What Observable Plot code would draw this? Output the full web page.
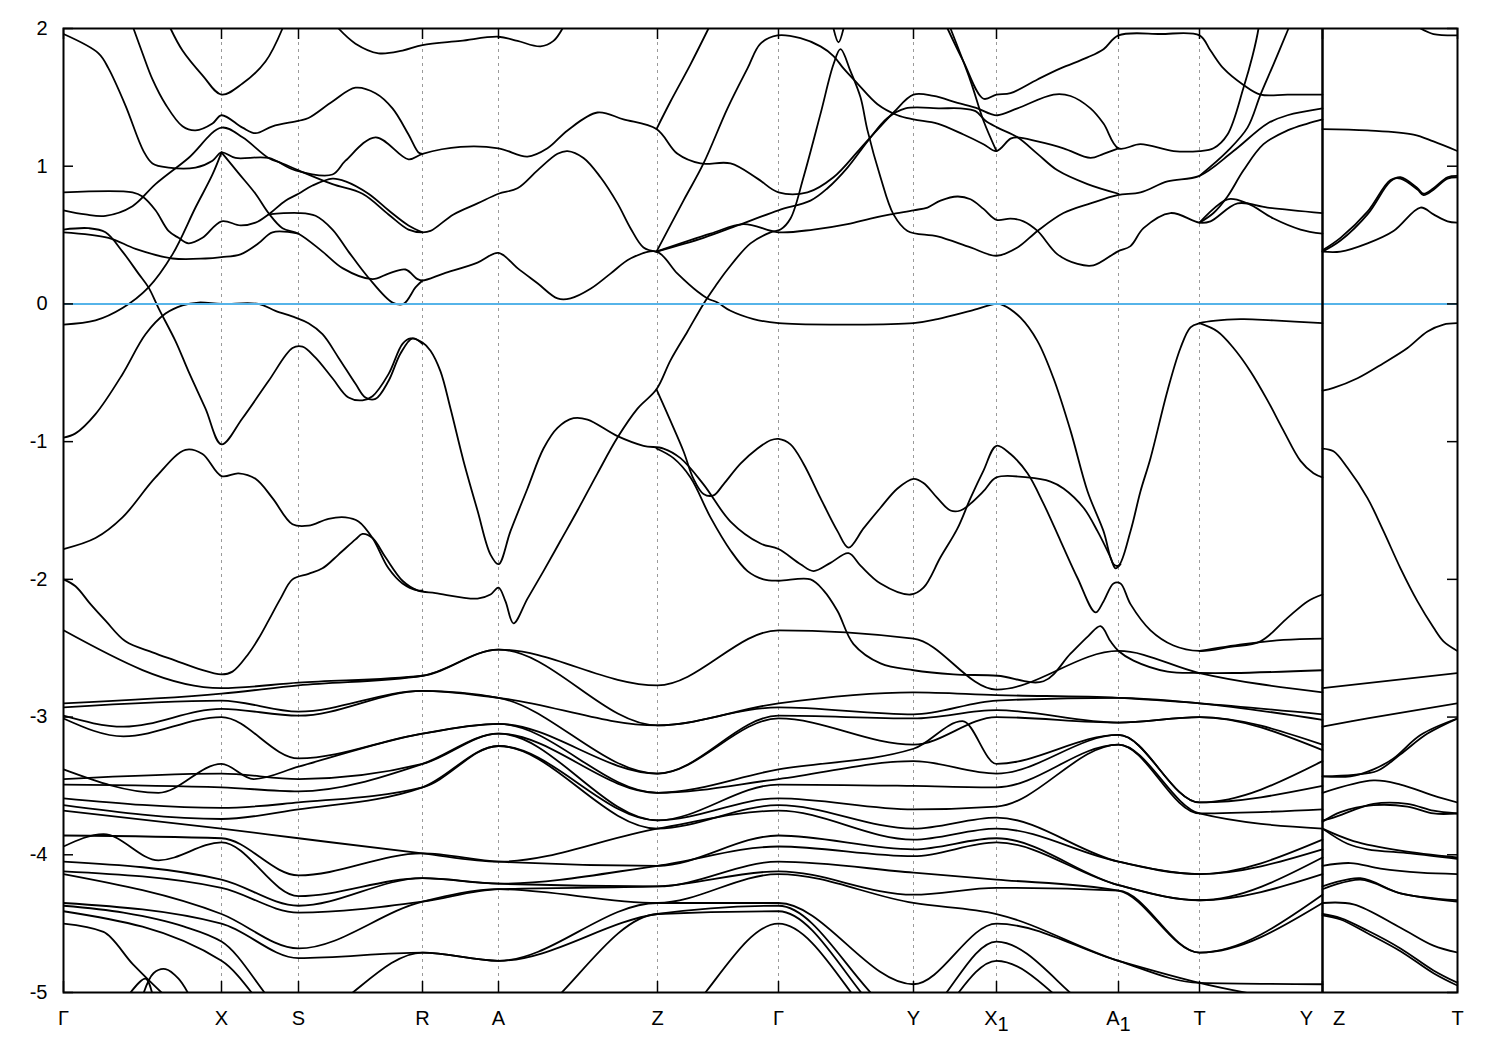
<!DOCTYPE html>
<html><head><meta charset="utf-8">
<script src="https://cdn.jsdelivr.net/npm/d3@7"></script>
<script src="https://cdn.jsdelivr.net/npm/@observablehq/plot@0.6"></script>
<style>body{margin:0;background:#fff}</style>
</head><body><div id="chart"></div>
<script>
// ---- k-path (high-symmetry points) ----
const hspK = [0,158,235,359,435,594,715,850,933,1055,1136,1259,1394];
const hspLabels = ["Γ","X","S","R","A","Z","Γ","Y","X1","A1","T","Y\u2003Z","T"];
const gridK = [158,235,359,435,594,715,850,933,1055,1136,1259];
const breakK = 1259;
const yTicks = [-5,-4,-3,-2,-1,0,1,2];

// ---- traced bands, [k, E(eV)] ----
const bandU1 = [[0,1.96],[35,1.82],[45,1.71],[62,1.44],[80,1.11],[89,1.02],[105,0.99],[132,0.99],[149,1.04],[158,1.10],[172,1.06],[205,1.06],[232,0.97],[269,0.94],[282,1.04],[312,1.21],[345,1.05],[359,1.09],[397,1.14],[435,1.13],[464,1.07],[484,1.13],[504,1.26],[534,1.39],[560,1.34],[593,1.27],[614,1.09],[637,1.02],[667,1.02],[694,0.91],[715,0.81],[744,0.81],[770,0.92],[797,1.13],[830,1.39],[850,1.52],[870,1.51],[894,1.46],[914,1.42],[927,1.38],[934,1.37],[954,1.42],[990,1.52],[1007,1.51],[1027,1.42],[1040,1.31],[1055,1.13],[1077,1.16],[1110,1.11],[1136,1.11],[1150,1.13],[1164,1.23],[1180,1.57],[1189,1.80],[1195,2.00],[1198,2.2]];
const bandP1 = [[107,2.0],[119,1.84],[139,1.66],[158,1.52],[179,1.60],[202,1.76],[219,2.0]];
const bandP2 = [[70,2.0],[79,1.82],[89,1.63],[102,1.45],[119,1.29],[132,1.26],[149,1.31],[158,1.37],[179,1.28],[192,1.24],[209,1.29],[235,1.33],[245,1.35],[269,1.47],[292,1.57],[312,1.53],[329,1.42],[345,1.23],[355,1.10],[359,1.09]];
const bandP3 = [[275,2.0],[292,1.89],[315,1.82],[339,1.84],[359,1.88],[397,1.91],[435,1.94],[454,1.91],[477,1.87],[490,1.91],[499,2.0]];
const bandP4 = [[0,0.81],[69,0.81],[79,0.78],[92,0.68],[105,0.53],[115,0.48],[125,0.44],[139,0.48],[158,0.60],[177,0.57],[192,0.59],[205,0.65],[222,0.75],[235,0.80],[249,0.86],[269,0.91],[282,0.89],[305,0.80],[325,0.68],[345,0.57],[359,0.52]];
const bandP5 = [[0,0.68],[22,0.65],[42,0.64],[69,0.71],[92,0.87],[125,1.06],[158,1.28],[179,1.21],[205,1.06],[219,1.02],[235,0.97],[269,0.87],[299,0.80],[325,0.65],[345,0.54],[359,0.52],[367,0.53],[390,0.65],[414,0.73],[435,0.80],[454,0.84],[474,0.97],[494,1.09],[504,1.11],[520,1.06],[537,0.92],[554,0.73],[567,0.55],[580,0.41],[593,0.38]];
const bandVB = [[158,1.10],[175,0.95],[192,0.80],[205,0.66],[219,0.55],[235,0.51],[259,0.38],[279,0.26],[309,0.18],[325,0.22],[342,0.25],[354,0.18],[359,0.17],[380,0.22],[414,0.30],[435,0.37],[454,0.26],[474,0.15],[494,0.04],[507,0.04],[527,0.11],[547,0.22],[567,0.33],[593,0.38],[614,0.22],[634,0.09],[644,0.04],[654,0.01],[667,-0.05],[690,-0.11],[715,-0.14],[774,-0.15],[850,-0.14],[874,-0.11],[907,-0.05],[933,0.00],[940,-0.01],[957,-0.10],[974,-0.27],[990,-0.54],[1007,-0.92],[1024,-1.36],[1040,-1.65],[1050,-1.89],[1055,-1.90],[1067,-1.65],[1077,-1.36],[1087,-1.12],[1104,-0.63],[1117,-0.32],[1127,-0.17],[1136,-0.14],[1177,-0.11],[1210,-0.12],[1259,-0.14]];
const bandVT = [[1136,-0.14],[1154,-0.20],[1170,-0.32],[1187,-0.49],[1204,-0.70],[1220,-0.92],[1237,-1.14],[1250,-1.23],[1259,-1.26]];
const bandP7 = [[205,0.65],[235,0.66],[252,0.64],[269,0.54],[285,0.38],[305,0.19],[329,0.01],[340,0.00],[352,0.12],[359,0.17]];
const bandP8 = [[0,-0.15],[32,-0.12],[59,-0.03],[85,0.12],[109,0.36],[132,0.70],[149,0.94],[158,1.10]];
const bandP9 = [[0,0.52],[45,0.48],[72,0.40],[109,0.33],[142,0.33],[158,0.34],[177,0.36],[195,0.44],[209,0.52],[235,0.51]];
const bandVa = [[0,-0.97],[12,-0.94],[32,-0.80],[59,-0.51],[82,-0.22],[102,-0.07],[119,-0.01],[135,0.01],[158,0.00],[195,0.00],[212,-0.05],[232,-0.10],[245,-0.14],[259,-0.22],[275,-0.39],[292,-0.58],[302,-0.68],[312,-0.69],[325,-0.56],[337,-0.36],[349,-0.25],[359,-0.29]];
const bandC6 = [[0,0.54],[25,0.55],[42,0.52],[59,0.38],[75,0.22],[85,0.12],[95,-0.03],[112,-0.27],[125,-0.49],[142,-0.76],[158,-1.02],[179,-0.83],[205,-0.56],[229,-0.32],[239,-0.31],[252,-0.39],[269,-0.54],[285,-0.68],[299,-0.70],[309,-0.67],[325,-0.51],[339,-0.29],[347,-0.25],[359,-0.28],[367,-0.34],[377,-0.49],[387,-0.76],[400,-1.14],[414,-1.50],[427,-1.82],[435,-1.89],[447,-1.65],[464,-1.34],[480,-1.05],[494,-0.90],[510,-0.83],[524,-0.84],[554,-0.96],[580,-1.03],[600,-1.05],[617,-1.12],[640,-1.31],[667,-1.58],[697,-1.74],[715,-1.78],[737,-1.89],[750,-1.94],[767,-1.88],[785,-1.81],[797,-1.90],[817,-2.03],[847,-2.11],[860,-2.06],[877,-1.84],[894,-1.63],[907,-1.41],[920,-1.21],[933,-1.03],[947,-1.09],[964,-1.23],[980,-1.45],[997,-1.72],[1014,-1.99],[1032,-2.24],[1040,-2.16],[1050,-2.03],[1057,-2.03],[1067,-2.18],[1087,-2.37],[1110,-2.48],[1136,-2.52],[1167,-2.49],[1197,-2.45],[1224,-2.28],[1244,-2.16],[1259,-2.11]];
const bandFlatT = [[1136,-2.52],[1180,-2.47],[1220,-2.44],[1259,-2.43]];
const bandZline = [[593,-0.62],[607,-0.85],[620,-1.07],[630,-1.27],[640,-1.38],[650,-1.39],[660,-1.31],[677,-1.16],[694,-1.05],[707,-0.99],[715,-0.98],[727,-1.02],[740,-1.16],[757,-1.41],[774,-1.65],[785,-1.77],[800,-1.63],[817,-1.48],[834,-1.34],[850,-1.27],[860,-1.30],[874,-1.41],[887,-1.50],[897,-1.50],[907,-1.45],[920,-1.36],[933,-1.26],[964,-1.26],[987,-1.29],[1000,-1.34],[1020,-1.48],[1034,-1.65],[1047,-1.84],[1052,-1.92],[1057,-1.89]];
const bandG4 = [[593,-1.05],[610,-1.12],[627,-1.26],[647,-1.55],[667,-1.79],[684,-1.94],[700,-2.00],[715,-2.01],[747,-2.00],[760,-2.08],[774,-2.23],[790,-2.47],[817,-2.61],[850,-2.66],[890,-2.69],[934,-2.70],[980,-2.74],[1007,-2.54],[1025,-2.41],[1037,-2.34],[1047,-2.45],[1055,-2.52],[1070,-2.59],[1104,-2.67],[1136,-2.68],[1170,-2.68],[1259,-2.66]];
const bandG1 = [[0,-2.00],[12,-2.05],[27,-2.18],[42,-2.30],[62,-2.45],[89,-2.53],[112,-2.59],[135,-2.65],[158,-2.69],[169,-2.67],[185,-2.54],[195,-2.43],[205,-2.30],[217,-2.14],[229,-2.00],[245,-1.96],[259,-1.92],[275,-1.82],[292,-1.71],[299,-1.67],[309,-1.70],[322,-1.84],[339,-2.01],[354,-2.08],[372,-2.10],[414,-2.14],[427,-2.11],[435,-2.06],[442,-2.16],[450,-2.32],[464,-2.14],[480,-1.94],[497,-1.72],[514,-1.50],[534,-1.23],[554,-0.97],[574,-0.76],[593,-0.62],[607,-0.41],[624,-0.20],[640,0.00],[652,0.13],[664,0.25],[687,0.44],[707,0.52],[717,0.54],[727,0.62],[740,0.92],[757,1.38],[770,1.74],[777,1.85],[787,1.69],[797,1.50],[804,1.26],[817,0.92],[830,0.65],[844,0.53],[874,0.49],[907,0.41],[933,0.35],[954,0.41],[974,0.53],[1000,0.66],[1027,0.73],[1054,0.79],[1077,0.81],[1104,0.89],[1136,0.93],[1170,1.11],[1204,1.31],[1224,1.37],[1259,1.42]];
const bandG1b = [[0,-1.78],[32,-1.70],[59,-1.55],[92,-1.26],[122,-1.06],[139,-1.09],[158,-1.25],[175,-1.23],[192,-1.27],[209,-1.41],[229,-1.60],[245,-1.61],[265,-1.56],[282,-1.55],[295,-1.58],[309,-1.70],[325,-1.92],[339,-2.03],[354,-2.08],[359,-2.08]];
const bandD1 = [[593,0.38],[620,0.75],[640,1.02],[664,1.42],[684,1.71],[697,1.89],[714,1.95],[737,1.93],[757,1.87],[770,1.80],[780,1.71],[794,1.60],[814,1.45],[834,1.37],[850,1.34],[874,1.31],[900,1.23],[920,1.16],[933,1.11],[947,1.20],[954,1.21],[974,1.18],[1000,1.13],[1027,1.06],[1040,1.09],[1055,1.13]];
const bandZsteep = [[593,1.27],[607,1.47],[627,1.74],[645,2.0]];
const bandTopV = [[770,2.0],[775,1.90],[780,2.0]];
const bandM2 = [[593,0.38],[647,0.51],[680,0.58],[715,0.52],[750,0.54],[784,0.58],[807,0.62],[827,0.65],[850,0.68],[864,0.70],[877,0.75],[894,0.78],[907,0.76],[920,0.69],[933,0.61],[947,0.62],[960,0.60],[974,0.53],[994,0.36],[1014,0.29],[1030,0.28],[1054,0.38],[1067,0.42],[1080,0.55],[1107,0.66],[1136,0.59],[1147,0.60],[1174,0.73],[1204,0.70],[1259,0.66]];
const bandM2b = [[1136,0.59],[1164,0.76],[1184,0.73],[1210,0.62],[1237,0.54],[1259,0.51]];
const bandF = [[1136,0.59],[1150,0.66],[1164,0.78],[1180,0.97],[1200,1.16],[1224,1.26],[1244,1.31],[1259,1.34]];
const bandM3 = [[593,0.38],[640,0.48],[674,0.57],[715,0.68],[747,0.75],[764,0.84],[784,0.99],[804,1.18],[824,1.35],[842,1.42],[877,1.42],[897,1.42],[912,1.40],[922,1.33],[934,1.28],[954,1.21],[974,1.09],[994,0.97],[1024,0.87],[1055,0.80]];
const bandS2 = [[887,2.0],[907,1.62],[920,1.33],[933,1.11]];
const bandT1 = [[884,2.0],[900,1.76],[920,1.49],[933,1.52],[947,1.53],[974,1.63],[997,1.71],[1024,1.79],[1040,1.85],[1055,1.95],[1097,1.96],[1136,1.95],[1147,1.84],[1160,1.71],[1180,1.59],[1197,1.52],[1224,1.52],[1259,1.52]];
const bandC = [[1136,0.93],[1164,1.11],[1184,1.28],[1197,1.52],[1210,1.74],[1225,2.0]];
const bandBump1 = [[62,-5.05],[82,-4.9],[90,-5.05]];
const bandBump2 = [[78,-5.05],[90,-4.86],[102,-4.83],[115,-4.9],[128,-5.05]];

// ---- Z–T segment ----
const zt1 = [[1259,1.27],[1304,1.26],[1350,1.23],[1370,1.18],[1394,1.11]];
const zt2a = [[1259,0.38],[1277,0.46],[1304,0.65],[1327,0.89],[1337,0.92],[1354,0.84],[1360,0.80],[1370,0.84],[1384,0.92],[1394,0.93]];
const zt2b = [[1259,0.39],[1277,0.48],[1304,0.67],[1327,0.90],[1337,0.91],[1354,0.83],[1360,0.79],[1370,0.83],[1384,0.91],[1394,0.92]];
const zt3 = [[1259,0.38],[1277,0.38],[1304,0.44],[1330,0.53],[1357,0.70],[1370,0.65],[1384,0.60],[1394,0.59]];
const zt4 = [[1357,2.0],[1370,1.96],[1394,1.95]];
const zt5 = [[1259,-0.63],[1270,-0.61],[1294,-0.54],[1320,-0.43],[1344,-0.32],[1364,-0.20],[1380,-0.15],[1394,-0.14]];
const zt6 = [[1259,-1.05],[1270,-1.07],[1284,-1.19],[1304,-1.41],[1320,-1.65],[1337,-1.92],[1354,-2.16],[1370,-2.35],[1380,-2.45],[1394,-2.52]];
const ztA = [[1259,-2.79],[1394,-2.68]];
const ztB = [[1259,-3.07],[1304,-3.01],[1394,-2.90]];
const ztC1 = [[1259,-3.43],[1290,-3.42],[1314,-3.39],[1337,-3.27],[1364,-3.12],[1394,-3.01]];
const ztC2 = [[1259,-3.43],[1287,-3.43],[1310,-3.38],[1330,-3.30],[1357,-3.13],[1394,-3.01]];
const ztD = [[1259,-3.55],[1310,-3.46],[1337,-3.49],[1370,-3.57],[1394,-3.62]];
const ztE1 = [[1259,-3.75],[1270,-3.73],[1310,-3.63],[1344,-3.63],[1370,-3.68],[1394,-3.70]];
const ztE2 = [[1259,-3.76],[1277,-3.69],[1310,-3.64],[1344,-3.65],[1370,-3.70],[1394,-3.70]];
const ztF1 = [[1259,-3.81],[1290,-3.90],[1337,-3.97],[1394,-4.02]];
const ztF2 = [[1259,-3.81],[1284,-3.92],[1304,-3.96],[1347,-3.99],[1394,-4.03]];
const ztG = [[1259,-4.08],[1287,-4.06],[1317,-4.10],[1357,-4.13],[1394,-4.14]];
const ztH1 = [[1259,-4.23],[1297,-4.17],[1337,-4.28],[1394,-4.33]];
const ztH2 = [[1259,-4.25],[1297,-4.18],[1337,-4.28],[1394,-4.34]];
const ztI = [[1259,-4.35],[1290,-4.36],[1337,-4.53],[1370,-4.66],[1394,-4.71]];
const ztJ1 = [[1259,-4.43],[1277,-4.46],[1304,-4.55],[1337,-4.68],[1370,-4.84],[1394,-4.93]];
const ztJ2 = [[1259,-4.44],[1277,-4.47],[1304,-4.57],[1337,-4.70],[1370,-4.86],[1394,-4.95]];

// ---- dense valence manifold: energies at Γ X S R A Z Γ Y X1 A1 T Y ----
const eGamma = [-2.37,-2.90,-2.93,-2.99,-3.01,-3.38,-3.45,-3.49,-3.59,-3.64,-3.68,-3.86,-3.94,-4.05,-4.12,-4.14,-4.35,-4.37,-4.41,-4.50];
const eX  = [-2.79,-2.83,-2.88,-2.94,-3.00,-3.34,-3.41,-3.51,-3.66,-3.74,-3.81,-3.88,-3.91,-4.18,-4.24,-4.43,-4.50,-4.63,-4.77,-5.30];
const eS  = [-2.75,-2.77,-2.96,-2.99,-3.30,-3.36,-3.45,-3.54,-3.62,-3.67,-3.88,-4.15,-4.30,-4.37,-4.42,-4.68,-4.75,-5.20,-5.30,-5.40];
const eR  = [-2.70,-2.70,-2.81,-2.81,-3.12,-3.12,-3.34,-3.34,-3.51,-3.51,-3.99,-3.99,-4.17,-4.17,-4.34,-4.34,-4.71,-4.71,-5.30,-5.40];
const eA  = [-2.51,-2.51,-2.86,-2.86,-3.05,-3.05,-3.12,-3.12,-3.21,-3.21,-4.05,-4.05,-4.21,-4.21,-4.25,-4.25,-4.77,-4.77,-5.30,-5.40];
const eZ  = [-2.77,-3.06,-3.06,-3.41,-3.41,-3.55,-3.55,-3.75,-3.75,-3.81,-3.81,-4.08,-4.08,-4.23,-4.23,-4.35,-4.35,-4.43,-4.43,-5.30];
const eGamma2 = [-2.37,-2.90,-2.93,-2.99,-3.01,-3.38,-3.45,-3.49,-3.59,-3.64,-3.68,-3.86,-3.94,-4.05,-4.12,-4.14,-4.35,-4.37,-4.41,-4.50];
const eY  = [-2.43,-2.82,-2.98,-3.01,-3.20,-3.23,-3.32,-3.50,-3.67,-3.81,-3.89,-3.96,-4.01,-4.13,-4.29,-4.35,-4.94,-5.20,-5.30,-5.40];
const eX1 = [-2.80,-2.84,-2.88,-2.95,-3.00,-3.34,-3.41,-3.51,-3.65,-3.73,-3.81,-3.88,-3.91,-4.18,-4.24,-4.43,-4.50,-4.63,-4.77,-5.30];
const eA1 = [-2.52,-2.86,-2.86,-3.04,-3.04,-3.13,-3.13,-3.20,-3.20,-4.05,-4.05,-4.22,-4.22,-4.26,-4.26,-4.77,-4.77,-5.20,-5.30,-5.40];
const eT  = [-2.68,-2.90,-2.90,-3.00,-3.00,-3.62,-3.62,-3.70,-3.70,-4.14,-4.14,-4.33,-4.33,-4.71,-4.71,-4.93,-4.93,-5.20,-5.30,-5.40];
const eY2 = [-2.82,-2.98,-3.02,-3.20,-3.24,-3.32,-3.50,-3.67,-3.81,-3.89,-3.96,-4.02,-4.14,-4.29,-4.35,-4.94,-5.10,-5.20,-5.30,-5.40];
// extra in-segment extrema of some manifold bands: band index -> [k, E]
const denseExtra = {
  3: [[60,-3.07]],
  4: [[60,-3.14]],
  5: [[95,-3.55],[190,-3.45],[899,-3.03]],
  12: [[40,-3.85],[95,-4.04]],
  17: [[60,-4.42],[120,-4.52]],
  19: [[40,-4.56],[70,-4.80]]
};

// ---- build tables ----
const traces = {bandU1,bandP1,bandP2,bandP3,bandP4,bandP5,bandVB,bandVT,bandP7,bandP8,bandP9,bandVa,bandC6,bandFlatT,bandZline,bandG4,bandG1,bandG1b,bandD1,bandZsteep,bandTopV,bandM2,bandM2b,bandF,bandM3,bandS2,bandT1,bandC,bandBump1,bandBump2,
  zt1,zt2a,zt2b,zt3,zt4,zt5,zt6,ztA,ztB,ztC1,ztC2,ztD,ztE1,ztE2,ztF1,ztF2,ztG,ztH1,ztH2,ztI,ztJ1,ztJ2};
const traceRows = [];
for (const [id, pts] of Object.entries(traces)) for (const [k, E] of pts) traceRows.push({id, k, E});

const denseCols = [eGamma,eX,eS,eR,eA,eZ,eGamma2,eY,eX1,eA1,eT,eY2];
const denseRows = [];
for (let b = 0; b < eGamma.length; b++) {
  const pts = denseCols.map((col, i) => ({id: "d" + b, k: hspK[i], E: col[b]}));
  for (const [k, E] of (denseExtra[b] || [])) pts.push({id: "d" + b, k, E});
  pts.sort((a, c) => a.k - c.k);
  denseRows.push(...pts);
}
const labelByK = new Map(hspK.map((k, i) => [k, hspLabels[i]]));

const chart = Plot.plot({
  width: 1500, height: 1050,
  marginLeft: 63, marginRight: 43, marginTop: 28, marginBottom: 58,
  x: {domain: [0, 1394]},
  y: {domain: [-5, 2]},
  style: {fontFamily: "'Liberation Sans', Arial, sans-serif", fontSize: "20px", color: "black", background: "white"},
  marks: [
    Plot.ruleX(gridK, {stroke: "#9a9a9a", strokeWidth: 1, strokeDasharray: "3,4"}),
    Plot.line(denseRows, {x: "k", y: "E", z: "id", curve: "monotone-x", stroke: "black", strokeWidth: 1.8, clip: true}),
    Plot.line(traceRows, {x: "k", y: "E", z: "id", curve: "catmull-rom", stroke: "black", strokeWidth: 1.8, clip: true}),
    Plot.ruleY([0], {stroke: "#56b4e9", strokeWidth: 2}),
    Plot.ruleX([breakK], {stroke: "black", strokeWidth: 2.5}),
    Plot.ruleY(yTicks, {x1: 0, x2: 10, stroke: "black", strokeWidth: 1.5}),
    Plot.ruleY(yTicks, {x1: 1384, x2: 1394, stroke: "black", strokeWidth: 1.5}),
    Plot.ruleX(hspK, {y1: -5, y2: -4.92, stroke: "black", strokeWidth: 1.5}),
    Plot.ruleX(hspK, {y1: 1.92, y2: 2, stroke: "black", strokeWidth: 1.5}),
    Plot.frame({stroke: "black", strokeWidth: 2}),
    Plot.axisY({ticks: yTicks, tickSize: 0, tickPadding: 16, tickFormat: d => String(d), fontSize: 20, label: null}),
    Plot.axisX({ticks: hspK, tickSize: 0, tickPadding: 18, tickFormat: d => labelByK.get(d), fontSize: 20, label: null})
  ]
});
document.getElementById("chart").appendChild(chart);
d3.select(chart).selectAll("text").each(function() {
  const t = this.textContent;
  if (t === "X1" || t === "A1") {
    this.textContent = t[0];
    d3.select(this).append("tspan").attr("dy", "0.32em").text("1");
  }
});
</script>
</body></html>
